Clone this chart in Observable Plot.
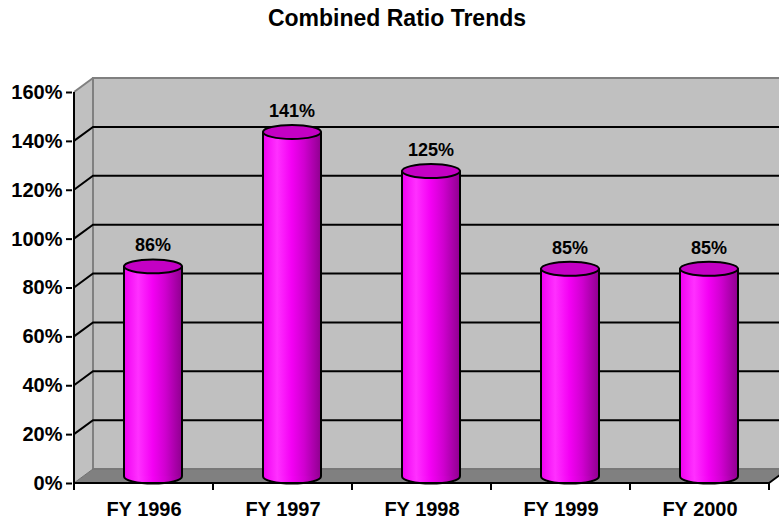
<!DOCTYPE html>
<html><head><meta charset="utf-8">
<script src="https://cdn.jsdelivr.net/npm/d3@7"></script>
<script src="https://cdn.jsdelivr.net/npm/@observablehq/plot@0.6"></script>
<style>
body{margin:0;background:#fff;font-family:"Liberation Sans",Arial,sans-serif;}
#wrap{position:relative;width:779px;height:521px;overflow:hidden;background:#fff}
#title{position:absolute;left:0;top:7px;width:794px;text-align:center;font-weight:bold;font-size:23px;line-height:23px;color:#000}
#chart{position:absolute;left:0;top:45px;}
</style></head>
<body><div id="wrap"><div id="title">Combined Ratio Trends</div><div id="chart"></div></div>
<script>
const categories = ["FY 1996", "FY 1997", "FY 1998", "FY 1999", "FY 2000"];
const values = [86, 141, 125, 85, 85];
const yTicks = [0, 20, 40, 60, 80, 100, 120, 140, 160];
const gridLevels = [20, 40, 60, 80, 100, 120, 140];
const data = categories.map((c, i) => ({cat: c, value: values[i]}));

const DX = 19, DY = -14;   // depth of the 3D box
const CX = 9, CY = -7;     // cylinders sit at half depth
const R = 29;              // cylinder radius (px)
const FONT = '"Liberation Sans", Arial, sans-serif';

const ellipse = {
  draw(ctx, size) {
    const rx = Math.sqrt(size / Math.PI), ry = rx * 0.24, k = 0.5522847498;
    ctx.moveTo(rx, 0);
    ctx.bezierCurveTo(rx, ry * k, rx * k, ry, 0, ry);
    ctx.bezierCurveTo(-rx * k, ry, -rx, ry * k, -rx, 0);
    ctx.bezierCurveTo(-rx, -ry * k, -rx * k, -ry, 0, -ry);
    ctx.bezierCurveTo(rx * k, -ry, rx, -ry * k, rx, 0);
    ctx.closePath();
  }
};

function bounds(scales, dims) {
  const {x, y} = scales;
  const bw = x.bandwidth ? x.bandwidth() : (dims.width - dims.marginLeft - dims.marginRight) / categories.length;
  const x0 = x(categories[0]);
  const x1 = x(categories[categories.length - 1]) + bw;
  return {x0, x1, bw, yT: y(yTicks[yTicks.length - 1]), yB: y(0)};
}

const box3d = (index, scales, vals, dims) => {
  const {y} = scales;
  const {x0, x1, yT, yB} = bounds(scales, dims);
  const g = d3.create("svg:g");
  g.append("polygon").attr("points", [[x0, yT], [x0 + DX, yT + DY], [x0 + DX, yB + DY], [x0, yB]].join(" "))
    .attr("fill", "#c0c0c0");
  g.append("rect").attr("x", x0 + DX).attr("y", yT + DY).attr("width", x1 - x0).attr("height", yB - yT)
    .attr("fill", "#c0c0c0").attr("stroke", "#808080").attr("stroke-width", 2);
  g.append("polygon").attr("points", [[x0, yB], [x0 + DX, yB + DY], [x1 + DX, yB + DY], [x1, yB]].join(" "))
    .attr("fill", "#808080").attr("stroke", "#707070").attr("stroke-width", 1);
  for (const t of gridLevels) {
    g.append("polyline").attr("points", [[x0, y(t)], [x0 + DX, y(t) + DY], [x1 + DX, y(t) + DY]].join(" "))
      .attr("fill", "none").attr("stroke", "#000").attr("stroke-width", 2);
  }
  g.append("line").attr("x1", x0).attr("y1", yT).attr("x2", x0 + DX).attr("y2", yT + DY)
    .attr("stroke", "#808080").attr("stroke-width", 2);
  return g.node();
};

const axes3d = (index, scales, vals, dims) => {
  const {x0, x1, bw, yT, yB} = bounds(scales, dims);
  const g = d3.create("svg:g").attr("stroke", "#000").attr("stroke-width", 2);
  g.append("line").attr("x1", x0).attr("y1", yT).attr("x2", x0).attr("y2", yB);
  g.append("line").attr("x1", x0).attr("y1", yB).attr("x2", x1).attr("y2", yB);
  g.append("line").attr("x1", x1).attr("y1", yB).attr("x2", x1 + DX).attr("y2", yB + DY);
  for (let i = 0; i <= categories.length; i++) {
    const xi = x0 + i * bw;
    g.append("line").attr("x1", xi).attr("y1", yB).attr("x2", xi).attr("y2", yB + 7);
  }
  return g.node();
};

const inset = (139.6 - 2 * R) / 2;

const svg = Plot.plot({
  width: 779,
  height: 476,
  marginLeft: 72,
  marginRight: 9,
  marginTop: 47,
  marginBottom: 38,
  style: {background: "transparent", fontFamily: FONT, color: "#000"},
  x: {type: "band", domain: categories, paddingInner: 0, paddingOuter: 0, axis: null, label: null},
  y: {domain: [0, 160], axis: null, label: null},
  marks: [
    box3d,
    Plot.dot(data, {x: "cat", y: () => 0, r: R, symbol: ellipse, fill: "url(#cylGrad)", stroke: "#000", strokeWidth: 2, dx: CX, dy: CY}),
    Plot.barY(data, {x: "cat", y: "value", fill: "url(#cylGrad)", insetLeft: inset, insetRight: inset, dx: CX, dy: CY}),
    Plot.ruleX(data, {x: "cat", y1: 0, y2: "value", dx: CX - R, dy: CY, stroke: "#000", strokeWidth: 2}),
    Plot.ruleX(data, {x: "cat", y1: 0, y2: "value", dx: CX + R, dy: CY, stroke: "#000", strokeWidth: 2}),
    Plot.dot(data, {x: "cat", y: "value", r: R, symbol: ellipse, fill: "#c400c4", stroke: "#000", strokeWidth: 2, dx: CX, dy: CY}),
    Plot.text(data, {x: "cat", y: "value", text: d => d.value + "%", dx: CX, dy: -28, fontSize: 18, fontWeight: "bold", fill: "#000"}),
    axes3d,
    Plot.axisY({ticks: yTicks, tickFormat: d => d + "%", tickSize: 6, tickPadding: 4, fontSize: 20, fontWeight: "bold", strokeWidth: 2, stroke: "#000", fill: "#000", label: null}),
    Plot.axisX({tickSize: 0, tickPadding: 18, fontSize: 20, fontWeight: "bold", fill: "#000", label: null})
  ]
});

const defs = d3.select(svg).insert("defs", ":first-child");
const lg = defs.append("linearGradient").attr("id", "cylGrad").attr("x1", "0").attr("x2", "1").attr("y1", "0").attr("y2", "0");
[[0, "#f000f0"], [0.25, "#ff30ff"], [0.5, "#f400f4"], [0.72, "#d000d0"], [1, "#920092"]]
  .forEach(([o, c]) => lg.append("stop").attr("offset", o).attr("stop-color", c));

document.getElementById("chart").appendChild(svg);
</script>
</body></html>
